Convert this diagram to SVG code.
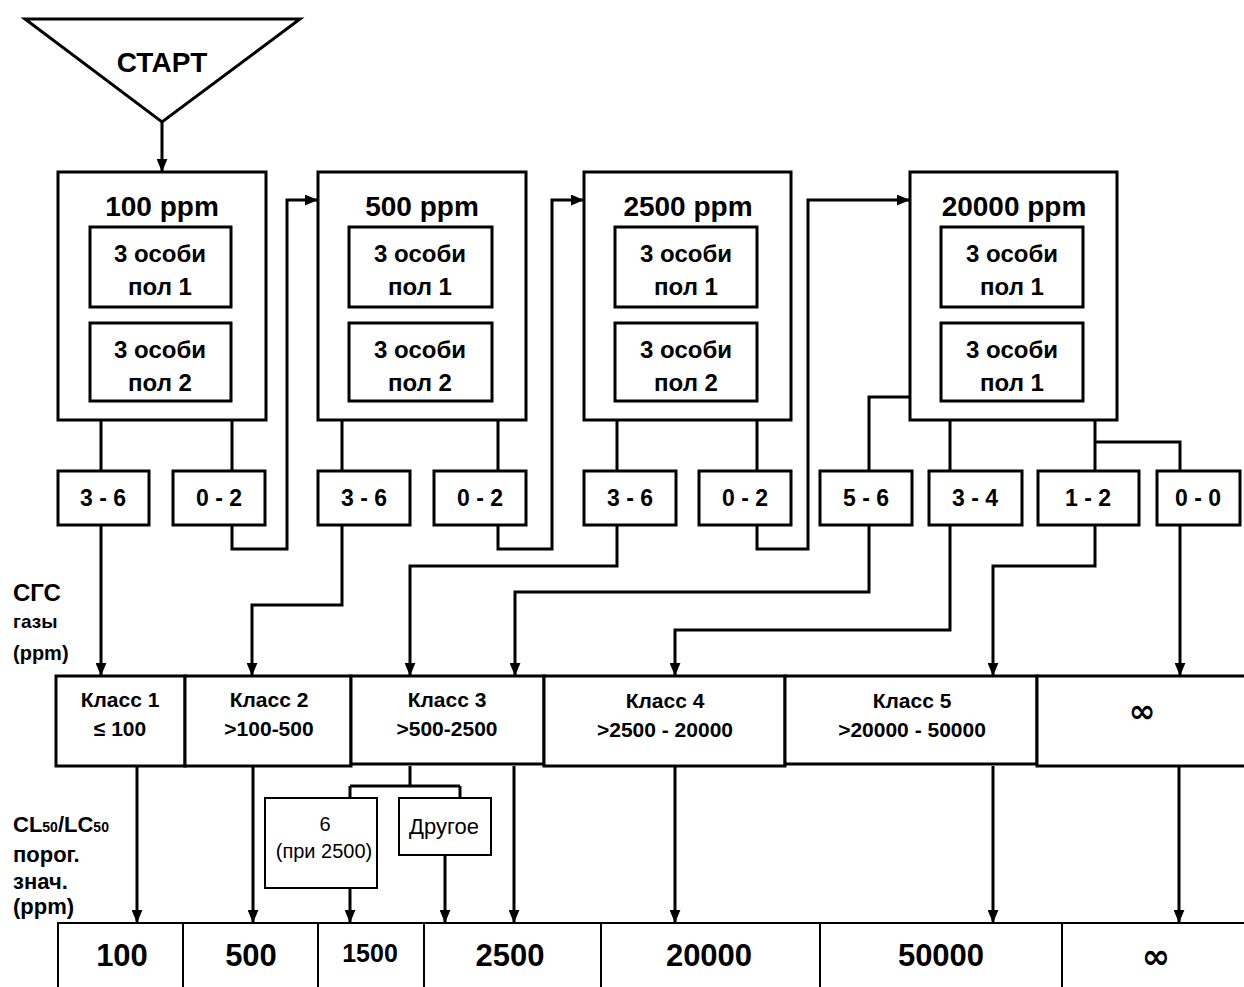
<svg xmlns="http://www.w3.org/2000/svg" width="1244" height="987" viewBox="0 0 1244 987">
<defs>
<marker id="ah" viewBox="0 0 12 10" refX="12" refY="5" markerWidth="13" markerHeight="11" markerUnits="userSpaceOnUse" orient="auto">
<path d="M0,0 L12,5 L0,10 z" fill="#000"/>
</marker>
<style>
.b{fill:#fff;stroke:#000;stroke-width:3}
.t{fill:#fff;stroke:#000;stroke-width:2}
.c{fill:none;stroke:#000;stroke-width:3}
.a{fill:none;stroke:#000;stroke-width:3;marker-end:url(#ah)}
text{font-family:"Liberation Sans",Arial,sans-serif;fill:#000;text-anchor:middle}
.h{font-size:28px;font-weight:bold}
.s{font-size:24px;font-weight:bold}
.r{font-size:23px;font-weight:bold}
.k{font-size:21px;font-weight:bold}
.n{font-size:31px;font-weight:bold}
.l{text-anchor:start;font-weight:bold}
.p{font-size:20px}
.i{font-family:"DejaVu Sans",sans-serif;font-weight:bold}
</style>
</defs>
<rect width="1244" height="987" fill="#fff"/>

<g id="start">
<polygon class="b" points="25,19 300,19 162,122"/>
<text class="h" x="162" y="72">СТАРТ</text>
</g>

<g id="box100">
<rect class="b" x="58" y="172" width="208" height="248"/>
<text class="h" x="162" y="216">100 ppm</text>
<rect class="b" x="90" y="227" width="141" height="80"/>
<text class="s" x="160" y="262">3 особи</text>
<text class="s" x="160" y="295">пол 1</text>
<rect class="b" x="90" y="323" width="141" height="78"/>
<text class="s" x="160" y="358">3 особи</text>
<text class="s" x="160" y="391">пол 2</text>
</g>
<g id="box500">
<rect class="b" x="318" y="172" width="208" height="248"/>
<text class="h" x="422" y="216">500 ppm</text>
<rect class="b" x="349" y="227" width="143" height="80"/>
<text class="s" x="420" y="262">3 особи</text>
<text class="s" x="420" y="295">пол 1</text>
<rect class="b" x="349" y="323" width="143" height="78"/>
<text class="s" x="420" y="358">3 особи</text>
<text class="s" x="420" y="391">пол 2</text>
</g>
<g id="box2500">
<rect class="b" x="584" y="172" width="207" height="248"/>
<text class="h" x="688" y="216">2500 ppm</text>
<rect class="b" x="615" y="227" width="142" height="80"/>
<text class="s" x="686" y="262">3 особи</text>
<text class="s" x="686" y="295">пол 1</text>
<rect class="b" x="615" y="323" width="142" height="78"/>
<text class="s" x="686" y="358">3 особи</text>
<text class="s" x="686" y="391">пол 2</text>
</g>
<g id="box20000">
<rect class="b" x="910" y="172" width="207" height="248"/>
<text class="h" x="1014" y="216">20000 ppm</text>
<rect class="b" x="941" y="227" width="142" height="80"/>
<text class="s" x="1012" y="262">3 особи</text>
<text class="s" x="1012" y="295">пол 1</text>
<rect class="b" x="941" y="323" width="142" height="78"/>
<text class="s" x="1012" y="358">3 особи</text>
<text class="s" x="1012" y="391">пол 1</text>
</g>

<g id="results">
<rect class="b" x="58" y="471" width="91" height="54"/><text class="r" x="103" y="506">3 - 6</text>
<rect class="b" x="173" y="471" width="92" height="54"/><text class="r" x="219" y="506">0 - 2</text>
<rect class="b" x="318" y="471" width="92" height="54"/><text class="r" x="364" y="506">3 - 6</text>
<rect class="b" x="434" y="471" width="92" height="54"/><text class="r" x="480" y="506">0 - 2</text>
<rect class="b" x="584" y="471" width="92" height="54"/><text class="r" x="630" y="506">3 - 6</text>
<rect class="b" x="699" y="471" width="92" height="54"/><text class="r" x="745" y="506">0 - 2</text>
<rect class="b" x="820" y="471" width="92" height="54"/><text class="r" x="866" y="506">5 - 6</text>
<rect class="b" x="929" y="471" width="93" height="54"/><text class="r" x="975" y="506">3 - 4</text>
<rect class="b" x="1038" y="471" width="101" height="54"/><text class="r" x="1088" y="506">1 - 2</text>
<rect class="b" x="1157" y="471" width="83" height="54"/><text class="r" x="1198" y="506">0 - 0</text>
</g>

<g id="labels">
<text class="l" x="13" y="601" font-size="24px">СГС</text>
<text class="l" x="13" y="628" font-size="19px">газы</text>
<text class="l" x="13" y="660" font-size="20px">(ppm)</text>
<text class="l" x="13" y="832" font-size="22px">CL<tspan font-size="14px">50</tspan>/LC<tspan font-size="14px">50</tspan></text>
<text class="l" x="13" y="862" font-size="22px">порог.</text>
<text class="l" x="13" y="889" font-size="22px">знач.</text>
<text class="l" x="13" y="914" font-size="22px">(ppm)</text>
</g>

<g id="classes">
<rect class="b" x="56" y="676" width="129" height="90"/>
<text class="k" x="120" y="707">Класс 1</text><text class="k" x="120" y="736">≤ 100</text>
<rect class="b" x="185" y="676" width="166" height="90"/>
<text class="k" x="269" y="707">Класс 2</text><text class="k" x="269" y="736">&gt;100-500</text>
<rect class="b" x="351" y="676" width="193" height="88"/>
<text class="k" x="447" y="707">Класс 3</text><text class="k" x="447" y="736">&gt;500-2500</text>
<rect class="b" x="544" y="676" width="241" height="90"/>
<text class="k" x="665" y="708">Класс 4</text><text class="k" x="665" y="737">&gt;2500 - 20000</text>
<rect class="b" x="785" y="676" width="252" height="88"/>
<text class="k" x="912" y="708">Класс 5</text><text class="k" x="912" y="737">&gt;20000 - 50000</text>
<rect class="b" x="1037" y="676" width="210" height="90"/>
<text class="i" x="1142" y="722" font-size="32px">∞</text>
</g>

<g id="sub3">
<rect class="t" x="265" y="798" width="112" height="90"/>
<text class="p" x="325" y="831">6</text>
<text class="p" x="324" y="858">(при 2500)</text>
<rect class="t" x="399" y="798" width="92" height="57"/>
<text x="444" y="834" font-size="22px">Другое</text>
</g>

<g id="thresholds">
<rect class="t" x="58" y="923" width="125" height="70"/><text class="n" x="122" y="966">100</text>
<rect class="t" x="183" y="923" width="135" height="70"/><text class="n" x="251" y="966">500</text>
<rect class="t" x="318" y="923" width="106" height="70"/><text x="370" y="962" font-size="25px" font-weight="bold">1500</text>
<rect class="t" x="424" y="923" width="177" height="70"/><text class="n" x="510" y="966">2500</text>
<rect class="t" x="601" y="923" width="219" height="70"/><text class="n" x="709" y="966">20000</text>
<rect class="t" x="820" y="923" width="242" height="70"/><text class="n" x="941" y="966">50000</text>
<rect class="t" x="1062" y="923" width="185" height="70"/><text class="i" x="1156" y="968" font-size="34px">∞</text>
</g>

<g id="connectors">
<path class="a" d="M162,122 V172"/>
<path class="c" d="M101,420 V471 M232,420 V471 M342,420 V471 M498,420 V471 M617,420 V471 M757,420 V471 M950,420 V471 M1095,420 V471 M1095,442 H1180 V471 M910,397 H869 V471"/>
<path class="a" d="M232,525 V549 H287 V200 H318"/>
<path class="a" d="M498,525 V549 H552 V200 H584"/>
<path class="a" d="M757,525 V549 H808 V200 H910"/>
<path class="a" d="M101,525 V676"/>
<path class="a" d="M342,525 V605 H252 V676"/>
<path class="a" d="M617,525 V566 H410 V676"/>
<path class="a" d="M869,525 V592 H515 V676"/>
<path class="a" d="M950,525 V630 H675 V676"/>
<path class="a" d="M1095,525 V566 H993 V676"/>
<path class="a" d="M1180,525 V676"/>
<path class="a" d="M137,766 V923"/>
<path class="a" d="M253,766 V923"/>
<path class="a" d="M514,766 V923"/>
<path class="a" d="M675,766 V923"/>
<path class="a" d="M993,766 V923"/>
<path class="a" d="M1179,766 V923"/>
<path class="c" d="M410,766 V786 M350,786 H460 M350,786 V798 M460,786 V798"/>
<path class="a" d="M350,888 V923"/>
<path class="a" d="M445,855 V923"/>
</g>
</svg>
